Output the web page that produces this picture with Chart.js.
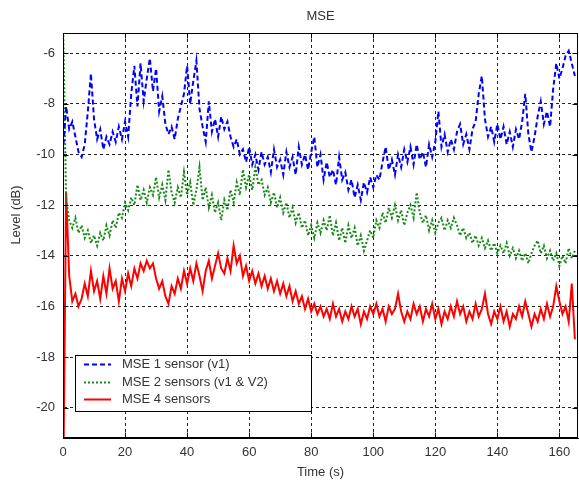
<!DOCTYPE html>
<html>
<head>
<meta charset="utf-8">
<script src="https://cdn.jsdelivr.net/npm/chart.js@4.4.1/dist/chart.umd.min.js"></script>
<style>
  html, body { margin: 0; padding: 0; background: #ffffff; }
  #wrap { width: 579px; height: 483px; }
</style>
</head>
<body>
<div id="wrap"><canvas id="c" width="579" height="483"></canvas></div>
<script>
// Sample spacing of the recorded levels, in seconds
const timeStep = 1;

// MSE level (dB) per second, single sensor (v1)
const mse1 = [
  -9.9, -8.1, -9.0, -8.7, -9.3, -9.9, -10.1, -9.6, -8.3, -6.8,
  -8.6, -9.4, -9.0, -9.8, -9.3, -9.6, -9.1, -9.5, -8.9, -9.4,
  -8.7, -9.3, -7.6, -6.5, -8.1, -6.4, -7.9, -7.0, -6.2, -7.5,
  -6.6, -8.3, -7.7, -8.8, -9.2, -8.9, -9.4, -8.6, -8.1, -7.6,
  -6.5, -8.0, -7.1, -6.3, -8.2, -8.9, -9.5, -7.9, -9.1, -8.6,
  -9.3, -8.5, -9.0, -8.7, -9.3, -9.7, -9.4, -10.0, -9.8, -10.3,
  -9.7, -10.4, -10.0, -10.6, -9.9, -10.4, -10.1, -10.7, -9.8, -10.5,
  -10.2, -10.8, -9.9, -10.5, -10.1, -10.8, -9.7, -10.4, -10.0, -10.6,
  -9.9, -9.3, -10.5, -10.0, -11.0, -10.3, -10.9, -10.6, -11.2, -10.1,
  -11.0, -10.7, -11.4, -11.0, -11.7, -11.2, -11.8, -11.1, -11.5, -10.9,
  -11.3, -10.8, -11.0, -10.3, -9.7, -10.6, -10.2, -10.8, -10.0, -10.5,
  -9.8, -10.3, -9.7, -10.4, -9.6, -10.2, -9.9, -10.5, -9.6, -10.1,
  -9.5, -8.3, -9.7, -9.2, -9.9, -9.4, -9.8, -9.1, -8.8, -9.6,
  -9.2, -9.8, -9.0, -8.7, -7.6, -6.9, -8.6, -9.3, -8.9, -9.5,
  -8.8, -9.4, -8.9, -9.6, -9.1, -9.7, -9.0, -9.4, -8.7, -7.6,
  -9.2, -9.9, -9.3, -8.5, -7.9, -8.8, -8.3, -8.9, -7.4, -6.4,
  -7.0, -6.6, -6.1, -5.9, -6.4, -6.9
];

// MSE level (dB) per second, two sensors (v1 & V2)
const mse2 = [
  -4.5, -11.8, -12.6, -12.9, -12.5, -13.1, -12.8, -13.3, -13.0, -13.5,
  -13.2, -13.6, -13.1, -13.4, -12.8, -13.2, -12.6, -12.9, -12.3, -12.5,
  -11.9, -12.2, -11.7, -12.0, -11.2, -11.8, -11.4, -11.9, -11.3, -11.6,
  -10.9, -11.7, -11.2, -11.8, -10.6, -11.5, -11.9, -11.3, -11.7, -10.7,
  -11.6, -11.1, -12.0, -11.4, -10.5, -11.8, -11.3, -12.1, -11.6, -12.3,
  -11.9, -12.6, -11.8, -12.2, -11.4, -11.9, -11.1, -11.6, -10.6, -11.3,
  -10.8, -11.4, -10.5, -11.2, -11.0, -11.6, -11.3, -11.9, -11.5, -12.1,
  -11.7, -12.3, -11.9, -12.5, -12.1, -12.7, -12.3, -12.9, -12.6, -13.2,
  -12.8, -13.3, -12.7, -13.1, -12.6, -13.0, -12.4, -13.2, -12.7, -13.4,
  -12.9, -13.5, -12.8, -13.3, -12.9, -13.6, -13.2, -13.8, -13.4, -13.0,
  -13.3, -12.6, -12.9, -12.3, -12.7, -12.1, -12.5, -12.0, -12.6, -12.2,
  -12.8, -12.3, -12.0, -12.5, -11.5, -12.3, -12.7, -12.4, -13.0, -12.6,
  -13.1, -12.7, -12.5, -13.0, -12.6, -12.9, -12.5, -12.8, -13.2, -12.9,
  -13.3, -13.1, -13.5, -13.2, -13.6, -13.3, -13.7, -13.4, -13.8, -13.5,
  -13.9, -13.6, -13.9, -13.5, -14.0, -13.7, -14.1, -13.8, -14.2, -13.9,
  -14.3, -13.9, -13.6, -13.4, -13.9, -13.6, -14.1, -13.8, -14.2, -13.9,
  -14.4, -14.0, -14.3, -13.7, -14.1, -13.8
];

// MSE level (dB) per second, four sensors
const mse4 = [
  -24.0, -11.5, -14.8, -15.8, -15.5, -16.0, -15.7, -15.1, -15.6, -14.6,
  -15.4, -15.0, -15.7, -14.8, -15.5, -14.5, -15.3, -15.0, -15.8, -14.9,
  -15.4, -14.7, -15.2, -14.5, -14.9, -14.3, -14.6, -14.2, -14.5, -14.3,
  -14.9, -15.3, -15.0, -15.6, -15.9, -15.2, -15.5, -14.9, -15.3, -14.6,
  -15.1, -14.5, -15.0, -14.3, -14.8, -15.4, -14.6, -14.2, -14.9, -14.4,
  -13.9, -14.5, -14.7, -14.1, -14.6, -13.6, -14.3, -14.0, -14.8, -14.4,
  -15.0, -14.6, -15.1, -14.7, -15.2, -14.8, -15.3, -14.9, -15.4, -15.0,
  -15.5, -15.1, -15.6, -15.2, -15.8, -15.4, -15.9, -15.6, -16.1, -15.7,
  -16.2, -15.9, -16.3, -16.0, -16.4, -16.1, -16.5, -15.9, -16.4, -16.1,
  -16.6, -16.2, -16.5, -16.0, -16.4, -16.1, -16.7, -16.2, -16.5, -16.0,
  -16.3, -15.9, -16.4, -16.1, -16.6, -16.0, -16.3, -16.1, -15.5, -16.2,
  -16.6, -16.2, -16.5, -15.9, -16.3, -16.0, -16.6, -16.1, -16.4, -15.9,
  -16.5, -16.1, -16.7, -16.2, -16.5, -16.0, -16.4, -15.8, -16.3, -16.0,
  -16.6, -16.2, -16.5, -15.9, -16.4, -16.1, -15.5, -16.3, -16.7, -16.2,
  -16.5, -16.0, -16.6, -16.2, -16.8, -16.3, -16.5, -16.0, -16.4, -15.8,
  -16.3, -16.8, -16.3, -16.6, -16.1, -16.5, -15.9, -16.4, -16.0, -15.2,
  -15.8, -16.3, -16.0, -16.6, -15.1, -17.3
];

const seriesLabels = ['MSE 1 sensor (v1)', 'MSE 2 sensors (v1 & V2)', 'MSE 4 sensors'];
const xTicks = [0, 20, 40, 60, 80, 100, 120, 140, 160];
const yTicks = [-20, -18, -16, -14, -12, -10, -8, -6];
const xRange = [0, 166];
const yRange = [-21.2, -5.2];
const titleText = 'MSE';
const xTitle = 'Time (s)';
const yTitle = 'Level (dB)';

const FONT = '"Liberation Sans", Arial, sans-serif';
const TEXT_COLOR = '#333333';

function toPoints(values) {
  return values.map((v, i) => ({ x: i * timeStep, y: v }));
}

// Box around the axes with short inward tick marks, plus titles and legend
const framePlugin = {
  id: 'frame',
  afterDatasetsDraw(chart) {
    const { ctx, chartArea: a, scales } = chart;
    ctx.save();
    ctx.strokeStyle = '#000000';
    ctx.lineWidth = 1;
    ctx.setLineDash([]);
    const L = Math.round(a.left) + 0.5, R = Math.round(a.right) - 0.5;
    const T = Math.round(a.top) + 0.5, B = Math.round(a.bottom) - 0.5;
    ctx.strokeRect(L, T, R - L, B - T);
    ctx.beginPath();
    const tl = 5;
    xTicks.forEach(v => {
      const px = Math.round(scales.x.getPixelForValue(v)) + 0.5;
      ctx.moveTo(px, B); ctx.lineTo(px, B - tl);
      ctx.moveTo(px, T); ctx.lineTo(px, T + tl);
    });
    yTicks.forEach(v => {
      const py = Math.round(scales.y.getPixelForValue(v)) + 0.5;
      ctx.moveTo(L, py); ctx.lineTo(L + tl, py);
      ctx.moveTo(R, py); ctx.lineTo(R - tl, py);
    });
    ctx.stroke();
    ctx.restore();
  },
  afterDraw(chart) {
    const { ctx, chartArea: a } = chart;
    const cx = (a.left + a.right) / 2;
    ctx.save();
    ctx.fillStyle = TEXT_COLOR;
    ctx.font = '13px ' + FONT;
    ctx.textAlign = 'center';
    ctx.textBaseline = 'middle';
    ctx.fillText(titleText, cx, 16);
    ctx.fillText(xTitle, cx, 472);
    ctx.translate(16, 215);
    ctx.rotate(-Math.PI / 2);
    ctx.fillText(yTitle, 0, 0);
    ctx.restore();

    // legend box in the lower-left corner of the axes
    const box = { x: 75.5, y: 355.5, w: 236, h: 56 };
    ctx.save();
    ctx.fillStyle = '#ffffff';
    ctx.fillRect(box.x, box.y, box.w, box.h);
    ctx.strokeStyle = '#000000';
    ctx.lineWidth = 1;
    ctx.setLineDash([]);
    ctx.strokeRect(box.x, box.y, box.w, box.h);
    const rows = [364, 382, 399];
    chart.data.datasets.forEach((ds, i) => {
      const y = rows[i] + 0.5;
      ctx.strokeStyle = ds.borderColor;
      ctx.lineWidth = ds.borderWidth;
      ctx.setLineDash(ds.borderDash || []);
      ctx.beginPath();
      ctx.moveTo(84, y);
      ctx.lineTo(111, y);
      ctx.stroke();
      ctx.fillStyle = TEXT_COLOR;
      ctx.font = '13px ' + FONT;
      ctx.textAlign = 'left';
      ctx.textBaseline = 'middle';
      ctx.fillText(ds.label, 122, rows[i]);
    });
    ctx.restore();
  }
};

new Chart(document.getElementById('c'), {
  type: 'line',
  data: {
    datasets: [
      { label: seriesLabels[0], data: toPoints(mse1), borderColor: '#0000ff',
        borderWidth: 2, borderDash: [5, 3], pointRadius: 0, tension: 0, fill: false },
      { label: seriesLabels[1], data: toPoints(mse2), borderColor: '#168a16',
        borderWidth: 2, borderDash: [2, 2], pointRadius: 0, tension: 0, fill: false },
      { label: seriesLabels[2], data: toPoints(mse4), borderColor: '#ff0000',
        borderWidth: 2, pointRadius: 0, tension: 0, fill: false }
    ]
  },
  options: {
    responsive: false,
    animation: false,
    devicePixelRatio: 1,
    layout: { padding: { top: 33, right: 1, left: 0, bottom: 0 } },
    plugins: { legend: { display: false }, title: { display: false }, tooltip: { enabled: false } },
    scales: {
      x: {
        type: 'linear',
        min: xRange[0], max: xRange[1],
        afterBuildTicks: s => { s.ticks = xTicks.map(v => ({ value: v })); },
        afterFit: s => { s.height = 45; },
        grid: { color: '#222222', lineWidth: 1, drawTicks: false },
        border: { display: true, color: '#000000', dash: [3, 3] },
        ticks: { color: TEXT_COLOR, font: { family: FONT, size: 13 }, padding: 7, maxRotation: 0 }
      },
      y: {
        type: 'linear',
        min: yRange[0], max: yRange[1],
        afterBuildTicks: s => { s.ticks = yTicks.map(v => ({ value: v })); },
        afterFit: s => { s.width = 63; },
        grid: { color: '#222222', lineWidth: 1, drawTicks: false },
        border: { display: true, color: '#000000', dash: [3, 3] },
        ticks: { color: TEXT_COLOR, font: { family: FONT, size: 13 }, padding: 8 }
      }
    }
  },
  plugins: [framePlugin]
});
</script>
</body>
</html>
